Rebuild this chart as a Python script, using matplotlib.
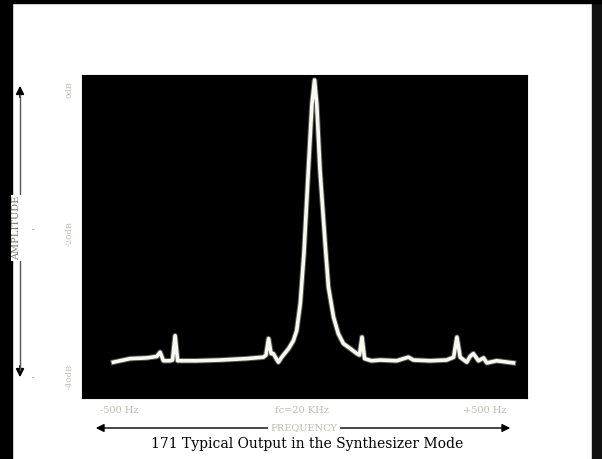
import matplotlib.pyplot as plt
from matplotlib.patches import Rectangle

# spectrum trace (offset from carrier in Hz, level in dB)
freq = [-517, -471, -425, -398, -389, -380, -362, -355, -348, -341, -330, -289, -225, -152,
        -106, -99, -92, -85, -79, -65, -56, -37, -24, -15, -5, 5, 17, 27, 34,
        40, 49, 63, 72, 86, 99, 113, 132, 150, 157, 164, 171, 190, 214, 259,
        291, 305, 351, 396, 415, 424, 433, 451, 460, 469, 483, 497, 506, 533, 579]
level = [-38.0, -37.5, -37.4, -37.2, -36.6, -37.8, -37.8, -37.7, -34.3, -37.8, -37.8, -37.8, -37.7, -37.5,
         -37.3, -37.0, -34.7, -36.8, -36.8, -38.0, -37.3, -36.1, -35.0, -33.6, -29.8, -22.8, -11.2, -1.9, 1.4,
         -1.9, -11.2, -21.4, -27.5, -31.7, -34.0, -35.4, -36.1, -36.8, -37.0, -34.5, -37.5, -37.8, -37.7, -37.8,
         -37.3, -37.7, -37.8, -37.7, -37.3, -34.5, -37.3, -38.0, -37.2, -36.8, -37.8, -37.4, -38.1, -37.8, -38.1]

xtick_pos = [-500, 0, 500]
xtick_lab = ['-500 Hz', 'fc=20 KHz', '+500 Hz']
ytick_pos = [0, -20, -40]
ytick_lab = ['0dB', '-20dB', '-40dB']

W, H = 602, 459
fig = plt.figure(figsize=(6.02, 4.59), dpi=100)
fig.patch.set_facecolor('white')

# dark scan borders
fig.patches.append(Rectangle((0, 0), 12 / W, 1, transform=fig.transFigure, color='black', zorder=0))
fig.patches.append(Rectangle((592 / W, 0), 10 / W, 1, transform=fig.transFigure, color='#111111', zorder=0))
fig.patches.append(Rectangle((0, 1 - 3 / H), 1, 3 / H, transform=fig.transFigure, color='black', zorder=0))

ax = fig.add_axes([82 / W, 1 - 398 / H, 445 / W, 323 / H])
ax.set_facecolor('black')
for s in ax.spines.values():
    s.set_color('black')

ax.plot(freq, level, color='#e8e8dc', lw=4, alpha=0.35, solid_joinstyle='round')
ax.plot(freq, level, color='#f8f8f0', lw=2.6, solid_joinstyle='round')
ax.set_xlim(-603, 616)
ax.set_ylim(-43.0, 2.1)

faint = '#bdbdae'
ax.set_xticks(xtick_pos)
ax.set_xticklabels(xtick_lab, color=faint, fontsize=7, family='DejaVu Serif')
ax.set_yticks(ytick_pos)
ax.set_yticklabels(ytick_lab, color=faint, fontsize=6, rotation=90, va='center', family='DejaVu Serif')
ax.tick_params(length=0, pad=6)

# amplitude arrow on the left
fig.add_artist(plt.Line2D([20 / W, 20 / W], [1 - 95 / H, 1 - 370 / H], color='#555555', lw=1.0))
ax.annotate('', xy=(20 / W, 1 - 83 / H), xytext=(20 / W, 1 - 100 / H), xycoords='figure fraction',
            arrowprops=dict(arrowstyle='-|>', color='black', lw=1.2, mutation_scale=12))
ax.annotate('', xy=(20 / W, 1 - 380 / H), xytext=(20 / W, 1 - 363 / H), xycoords='figure fraction',
            arrowprops=dict(arrowstyle='-|>', color='black', lw=1.2, mutation_scale=12))
fig.text(17 / W, 1 - 228 / H, 'AMPLITUDE', rotation=90, ha='center', va='center', fontsize=7,
         color='#777766', family='DejaVu Serif',
         bbox=dict(facecolor='white', edgecolor='none', pad=1))
for yy in [230, 378]:
    fig.text(33 / W, 1 - yy / H, '-', ha='center', va='center', fontsize=6, color='#999988')

# frequency arrow at the bottom
ax.annotate('', xy=(513 / W, 1 - 428 / H), xytext=(93 / W, 1 - 428 / H), xycoords='figure fraction',
            arrowprops=dict(arrowstyle='<|-|>', color='black', lw=1.0, mutation_scale=12))
fig.text(304 / W, 1 - 428 / H, 'FREQUENCY', ha='center', va='center', fontsize=7, color=faint,
         family='DejaVu Serif', bbox=dict(facecolor='white', edgecolor='none', pad=2))

fig.text(307 / W, 1 - 444 / H, '171 Typical Output in the Synthesizer Mode', ha='center', va='center',
         fontsize=10, color='black', family='DejaVu Serif')

fig.savefig('out.png', dpi=100, facecolor=fig.get_facecolor())
